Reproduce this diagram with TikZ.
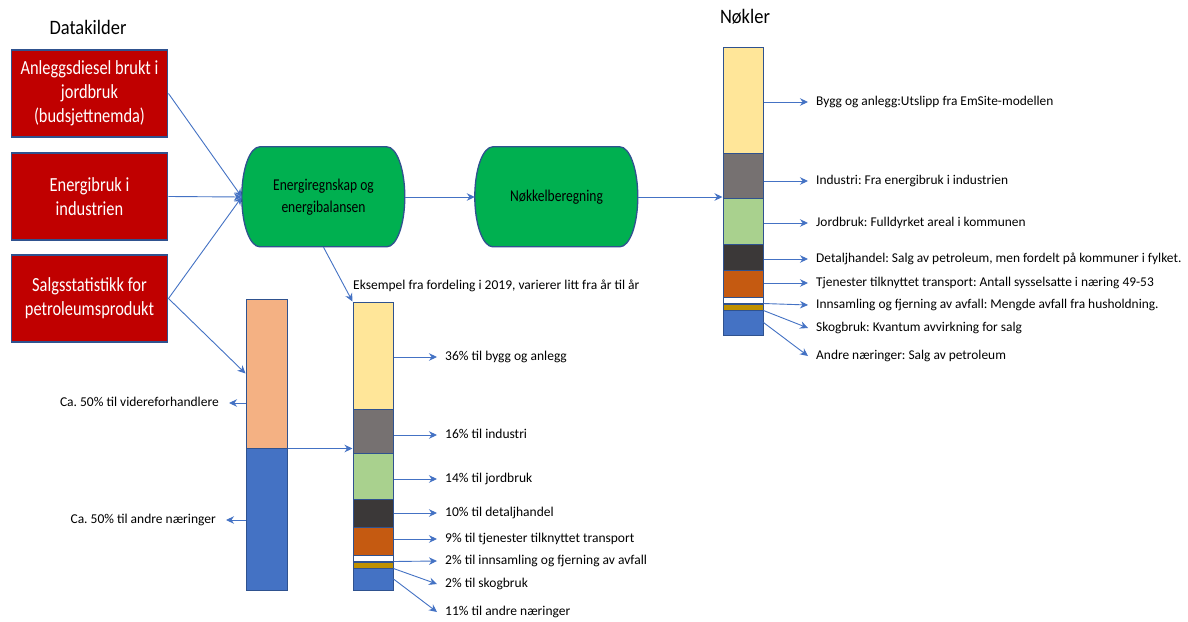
\documentclass[tikz,border=0pt]{standalone}
\usepackage{fontspec}
\setmainfont{Carlito}
\newfontfamily\tallfont{Carlito}[FakeStretch=0.82]
\newfontfamily\titlefont{Carlito}[FakeStretch=0.9]
\usetikzlibrary{arrows.meta, backgrounds}
\definecolor{kildered}{HTML}{C00000}
\definecolor{boxline}{HTML}{2F528F}
\definecolor{prosgreen}{HTML}{00B050}
\definecolor{pilblue}{HTML}{4472C4}
\definecolor{byggyellow}{HTML}{FFE699}
\definecolor{indgray}{HTML}{767171}
\definecolor{jordgreen}{HTML}{A9D18E}
\definecolor{detdark}{HTML}{3B3838}
\definecolor{tjenorange}{HTML}{C55A11}
\definecolor{skoggold}{HTML}{BF9000}
\definecolor{andreblue}{HTML}{4472C4}
\definecolor{vidpeach}{HTML}{F4B183}

\begin{document}
\frenchspacing
\begin{tikzpicture}[x=1pt, y=-1pt,
  kilde/.style = {draw=boxline, fill=kildered, text=white, line width=1.3pt, minimum width=155pt, minimum height=87pt, text width=150pt, align=flush center, font=\tallfont\fontsize{20}{24}\selectfont},
  prosess/.style = {minimum width=163pt, minimum height=100pt, align=flush center, font=\tallfont\fontsize{16.5}{21.5}\selectfont},
  prosform/.style = {draw=boxline, fill=prosgreen, line width=1.3pt},
  seg/.style = {draw=boxline, line width=1pt, minimum width=40pt, inner sep=0pt},
  lbl/.style = {font=\fontsize{13.5}{16}\selectfont, inner xsep=8pt, inner ysep=0pt, text height=10pt, text depth=3pt},
  nokkel/.style = {lbl, anchor=west, font=\fontsize{13.4}{16}\selectfont},
  pil/.style = {->, >={Stealth[length=8pt, width=7.5pt]}, draw=pilblue, line width=0.9pt}]
\path[use as bounding box] (0,0) rectangle (1188,621);

% titles
\node[font=\titlefont\fontsize{20.5}{22}\selectfont] (datakilder) at (88,27) {Datakilder};
\node[font=\titlefont\fontsize{20.5}{22}\selectfont] (nokler) at (745,17) {Nøkler};

% data sources
\node[kilde] (diesel) at (89.5,93.5) {Anleggsdiesel brukt i\\jordbruk\\(budsjettnemda)};
\node[kilde] (energibruk) at (89.5,196.5) {Energibruk i\\industrien};
\node[kilde] (salg) at (89.5,298.5) {Salgsstatistikk for\\petroleumsprodukt};

% processes
\node[prosess] (regnskap) at (323.5,197) {Energiregnskap og\\energibalansen};
\node[prosess] (beregning) at (556.5,197) {Nøkkelberegning};
\begin{scope}[on background layer]
\fill[white] (0,0) rectangle (1188,621);
\draw[prosform] (regnskap.north west) ++(18,0) -- ++(127,0) arc[start angle=-90, end angle=90, x radius=18, y radius=50]
  -- ++(-127,0) arc[start angle=90, end angle=270, x radius=18, y radius=50] -- cycle;
\draw[prosform] (beregning.north west) ++(18,0) -- ++(127,0) arc[start angle=-90, end angle=90, x radius=18, y radius=50]
  -- ++(-127,0) arc[start angle=90, end angle=270, x radius=18, y radius=50] -- cycle;
\end{scope}

% left bar
\node[seg, fill=vidpeach, minimum width=41pt, minimum height=149pt] (lpeach) at (266.5,373.5) {};
\node[seg, fill=andreblue, minimum width=41pt, minimum height=142pt] (lblue) at (266.5,519) {};
\node[lbl, anchor=east, inner xsep=10pt] (lvid) at (229,403) {Ca. 50\% til videreforhandlere};
\node[lbl, anchor=east, inner xsep=10pt] (land) at (226,520) {Ca. 50\% til andre næringer};

% centre bar (2019)
\node[lbl, anchor=west, inner xsep=0pt] (eksempel) at (353,286) {Eksempel fra fordeling i 2019, varierer litt fra år til år};
\node[seg, fill=byggyellow, minimum height=107pt] (cbygg) at (373,355.5) {};
\node[seg, fill=indgray, minimum height=44pt] (cind) at (373,431) {};
\node[seg, fill=jordgreen, minimum height=46pt] (cjord) at (373,476) {};
\node[seg, fill=detdark, minimum height=28pt] (cdet) at (373,513) {};
\node[seg, fill=tjenorange, minimum height=28pt] (ctjen) at (373,541) {};
\node[seg, fill=white, minimum height=6pt] (cinn) at (373,558) {};
\node[seg, fill=skoggold, minimum height=6pt] (cskog) at (373,565) {};
\node[seg, fill=andreblue, minimum height=22pt] (candre) at (373,579) {};

\node[lbl, anchor=west] (c36) at (437,357) {36\% til bygg og anlegg};
\node[lbl, anchor=west] (c16) at (437,435) {16\% til industri};
\node[lbl, anchor=west] (c14) at (437,479) {14\% til jordbruk};
\node[lbl, anchor=west] (c10) at (437,513) {10\% til detaljhandel};
\node[lbl, anchor=west] (c9) at (437,539) {9\% til tjenester tilknyttet transport};
\node[lbl, anchor=west] (c2a) at (437,561) {2\% til innsamling og fjerning av avfall};
\node[lbl, anchor=west] (c2b) at (437,584) {2\% til skogbruk};
\node[lbl, anchor=west] (c11) at (437,612) {11\% til andre næringer};

% right bar (keys)
\node[seg, fill=byggyellow, minimum height=106pt] (rbygg) at (743,100) {};
\node[seg, fill=indgray, minimum height=45pt] (rind) at (743,175.5) {};
\node[seg, fill=jordgreen, minimum height=46pt] (rjord) at (743,221) {};
\node[seg, fill=detdark, minimum height=26pt] (rdet) at (743,257) {};
\node[seg, fill=tjenorange, minimum height=27pt] (rtjen) at (743,283.5) {};
\node[seg, fill=white, minimum height=6pt] (rinn) at (743,300) {};
\node[seg, fill=skoggold, minimum height=6pt] (rskog) at (743,307) {};
\node[seg, fill=andreblue, minimum height=25pt] (randre) at (743,322.5) {};

\node[nokkel] (kbygg) at (808,102) {Bygg og anlegg:Utslipp fra EmSite-modellen};
\node[nokkel] (kind) at (808,181) {Industri: Fra energibruk i industrien};
\node[nokkel] (kjord) at (808,223) {Jordbruk: Fulldyrket areal i kommunen};
\node[nokkel] (kdet) at (808,259) {Detaljhandel: Salg av petroleum, men fordelt på kommuner i fylket.};
\node[nokkel] (ktjen) at (808,283) {Tjenester tilknyttet transport: Antall sysselsatte i næring 49-53};
\node[nokkel] (kinn) at (808,305) {Innsamling og fjerning av avfall: Mengde avfall fra husholdning.};
\node[nokkel] (kskog) at (808,328) {Skogbruk: Kvantum avvirkning for salg};
\node[nokkel] (kandre) at (808,356) {Andre næringer: Salg av petroleum};

% flow
\draw[pil] (diesel.east) -- (regnskap.west);
\draw[pil] (energibruk.east) -- (regnskap.west);
\draw[pil] (salg.east) -- (regnskap.west);
\draw[pil] (salg.east) -- (lpeach.west);
\draw[pil] (regnskap) -- (beregning);
\draw[pil] (beregning.east) -- (beregning.east -| rind.west);
\draw[pil] (regnskap.south) -- (cbygg.north west);
\draw[pil] (lpeach.south east) -- (lpeach.south east -| cind.west);

\draw[pil] (lpeach.west |- lvid.east) -- (lvid.east);
\draw[pil] (lblue.west |- land.east) -- (land.east);

\draw[pil] (cbygg.east |- c36.west) -- (c36.west);
\draw[pil] (cind.east |- c16.west) -- (c16.west);
\draw[pil] (cjord.east |- c14.west) -- (c14.west);
\draw[pil] (cdet.east |- c10.west) -- (c10.west);
\draw[pil] (ctjen.east |- c9.west) -- (c9.west);
\draw[pil] (cinn.south east) -- (c2a.west);
\draw[pil] (cskog.south east) -- (c2b.west);
\draw[pil] (candre.east) -- (c11.west);

\draw[pil] (rbygg.east |- kbygg.west) -- (kbygg.west);
\draw[pil] (rind.east |- kind.west) -- (kind.west);
\draw[pil] (rjord.east |- kjord.west) -- (kjord.west);
\draw[pil] (rdet.east |- kdet.west) -- (kdet.west);
\draw[pil] (rtjen.east |- ktjen.west) -- (ktjen.west);
\draw[pil] (rinn.south east) -- (kinn.west);
\draw[pil] (rskog.south east) -- (kskog.west);
\draw[pil] (randre.east) -- (kandre.west);
\end{tikzpicture}
\end{document}
